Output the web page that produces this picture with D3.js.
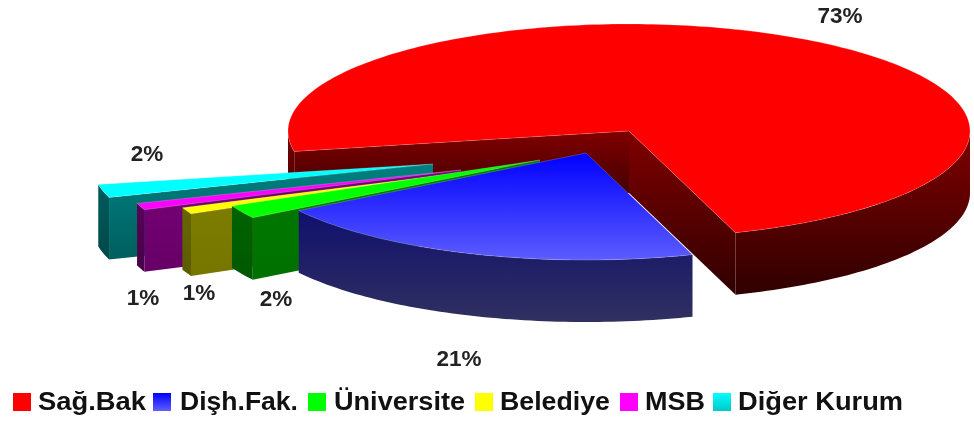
<!DOCTYPE html>
<html><head><meta charset="utf-8">
<script src="https://cdn.jsdelivr.net/npm/d3@7/dist/d3.min.js"></script>
<style>html,body{margin:0;background:#fff}svg{display:block;filter:blur(.7px)}
text{font-family:"Liberation Sans",Arial,sans-serif;font-weight:bold}</style>
</head><body><svg id="c" width="974" height="423"></svg>
<script>
// data
const categories = ["Sağ.Bak","Dişh.Fak.","Üniversite","Belediye","MSB","Diğer Kurum"];
const values = [73,21,2,1,1,2];
const percentLabels = ["73%","21%","2%","1%","1%","2%"];
const topColors = ["#ff0000","#0000ff","#00ff00","#ffff00","#ff00ff","#00ffff"];
// layout
const explodeX = [0,-43,-89,-130,-168,-196];
const explodeY = [0,22,29,37,39,33];
const wallTop = ["#800000","#10106e","#007c00","#808000","#7a007a","#008080"];
const wallBottom = ["#300000","#303060","#007000","#767600","#660066","#005e5e"];
const arcTop = ["#800000","#10106e","#006400","#666600","#580058","#005c5c"];
const arcBottom = ["#300000","#303060","#005800","#5c5c00","#480048","#004848"];
const labelX = [840,459,147,143,199,276];
const labelY = [23,366,161,305,300,306];
const legendSwatchX = [13,153,308,475,620,713];
const legendTextX = [38,180,334,500,645,738];
const legendTextW = [108,118,131,110,60,165];
const cx=629, cy=131, rx=341, ry=107, depth=62, startDeg=259;

const svg=d3.select("#c");
const defs=svg.append("defs");
function grad(id,a,b){
  const g=defs.append("linearGradient").attr("id",id).attr("x1",0).attr("y1",0).attr("x2",0).attr("y2",1);
  g.append("stop").attr("offset",0).attr("stop-color",a);
  g.append("stop").attr("offset",1).attr("stop-color",b);
  return `url(#${id})`;
}
const blueTop=grad("bt","#0000ff","#5c5cff");
const swatchBlue=grad("sb","#0000ff","#6060ff");
const swatchCyan=grad("sc","#00ffff","#00c8c8");

const arcs=d3.pie().sort(null).startAngle(startDeg*Math.PI/180).endAngle((startDeg+360)*Math.PI/180)(values);
const xs=d3.scaleLinear().domain([-1,1]).range([cx-rx,cx+rx]);
const ys=d3.scaleLinear().domain([-1,1]).range([cy-ry,cy+ry]);
// screen-parameter angle (clockwise from +x)
const T=a=>a-Math.PI/2;
const px=(t,i,r=1)=>xs(r*Math.cos(t))+explodeX[i];
const py=(t,i,r=1)=>ys(r*Math.sin(t))+explodeY[i];
const line=d3.line();
function samples(t0,t1){
  const n=Math.max(2,Math.ceil((t1-t0)/0.02));
  return d3.range(n+1).map(k=>t0+(t1-t0)*k/n);
}
function topPath(d,i){
  const t0=T(d.startAngle),t1=T(d.endAngle);
  const pts=[[px(0,i,0),py(0,i,0)]].concat(samples(t0,t1).map(t=>[px(t,i),py(t,i)]));
  return line(pts)+"Z";
}
function radialWall(t,i){
  const a=[px(t,i),py(t,i)],o=[px(0,i,0),py(0,i,0)];
  return line([a,o,[o[0],o[1]+depth],[a[0],a[1]+depth]])+"Z";
}
function arcWall(t0,t1,i){
  const s=samples(t0,t1);
  const up=s.map(t=>[px(t,i),py(t,i)]);
  const dn=s.slice().reverse().map(t=>[px(t,i),py(t,i)+depth]);
  return line(up.concat(dn))+"Z";
}
// front-facing parts of the rim: sin(t) >= 0
function frontRanges(t0,t1){
  const out=[],P=2*Math.PI;
  for(let k=-1;k<3;k++){
    const a=Math.max(t0,k*P),b=Math.min(t1,k*P+Math.PI);
    if(b>a)out.push([a,b]);
  }
  return out;
}
// paint order: red, then back-to-front through the exploded slices, blue last
const order=[0,5,4,3,2,1];
const slices=svg.selectAll("g.s").data(order).join("g").attr("class","s");
slices.each(function(i){
  const g=d3.select(this), d=arcs[i];
  const t0=T(d.startAngle),t1=T(d.endAngle);
  const wf=grad("w"+i,wallTop[i],wallBottom[i]), af=grad("a"+i,arcTop[i],arcBottom[i]);
  if(-Math.cos(t0)>0) g.append("path").attr("d",radialWall(t0,i)).attr("fill",wf);
  if(Math.cos(t1)>0) g.append("path").attr("d",radialWall(t1,i)).attr("fill",wf);
  frontRanges(t0,t1).forEach(r=>g.append("path").attr("d",arcWall(r[0],r[1],i)).attr("fill",af));
  g.append("path").attr("d",topPath(d,i))
    .attr("fill",i===1?blueTop:topColors[i])
    .attr("stroke","#fff").attr("stroke-opacity",.28).attr("stroke-width",.7);
});
svg.selectAll("text.p").data(percentLabels).join("text").attr("class","p")
  .attr("x",(d,i)=>labelX[i]).attr("y",(d,i)=>labelY[i])
  .attr("text-anchor","middle").attr("font-size",22.5).attr("fill","#222").text(d=>d);
const lg=svg.selectAll("g.l").data(categories).join("g").attr("class","l");
lg.append("rect").attr("x",(d,i)=>legendSwatchX[i]).attr("y",393).attr("width",18).attr("height",18)
  .attr("fill",(d,i)=>i===1?swatchBlue:i===5?swatchCyan:topColors[i]);
lg.append("text").attr("x",(d,i)=>legendTextX[i]).attr("y",410).attr("font-size",25)
  .attr("textLength",(d,i)=>legendTextW[i]).attr("lengthAdjust","spacingAndGlyphs")
  .attr("fill","#111").text(d=>d);
</script></body></html>
